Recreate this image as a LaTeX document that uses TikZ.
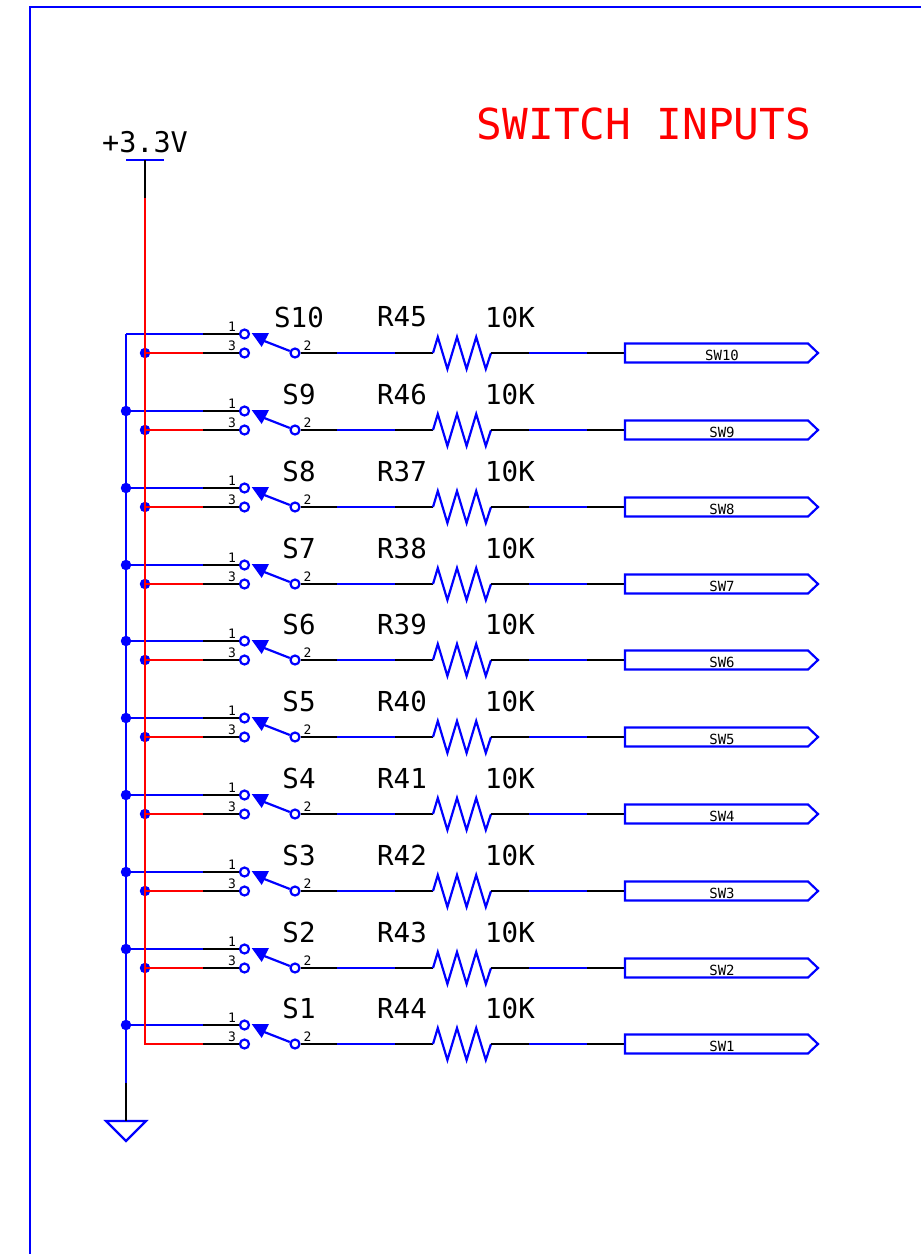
\documentclass[tikz,border=0pt]{standalone}
\usepackage{fontspec}
\setmainfont{DejaVu Sans Mono}
\definecolor{wireblue}{RGB}{0,0,255}
\definecolor{wirered}{RGB}{255,0,0}
\tikzset{
  bw/.style={draw=wireblue,line width=2.2pt},
  kw/.style={draw=black,line width=2.2pt},
  rw/.style={draw=wirered,line width=2.2pt},
  contact/.style={circle,draw=wireblue,line width=2.2pt,fill=white,inner sep=0pt,minimum size=9pt},
  junction/.style={circle,fill=wireblue,inner sep=0pt,minimum size=10.5pt},
  portbox/.style={draw=wireblue,line width=2.2pt,line join=miter},
  pinlbl/.style={font=\fontsize{13}{13}\selectfont,inner sep=0pt},
  reflbl/.style={font=\fontsize{27.5}{28}\selectfont,inner sep=0pt},
  portlbl/.style={font=\fontsize{14}{14}\selectfont,inner sep=0pt}
}
\begin{document}
\begin{tikzpicture}[x=1pt,y=-1pt]
\useasboundingbox (0,0) rectangle (921,1254);
\fill[white] (0,0) rectangle (921,1254);
% sheet frame
\draw[bw] (30,1254) -- (30,7) -- (921,7);
% title and rail labels
\node[font=\fontsize{42.7}{43}\selectfont,text=wirered,inner sep=0pt] (title) at (644,124) {SWITCH INPUTS};
\node[font=\fontsize{28.5}{29}\selectfont,inner sep=0pt] (vcclbl) at (145,142) {+3.3V};
% rails: coordinates
\coordinate (vccbar) at (145,160);
\coordinate (vccsplit) at (145,198);
\coordinate (gndsplit) at (126,1083);
\coordinate (gndtop) at (126,1121);
\draw[bw] (126,160) -- (164,160);
\draw[bw] (106,1121) -- (146,1121) -- (126,1141) -- cycle;
\draw[kw] (vccbar) -- (vccsplit);
\draw[kw] (gndsplit) -- (gndtop);
\draw[bw] (126,334) -- (gndsplit);
% rows
\foreach \yy/\sw/\res/\prt/\tp/\bt in {
  353/S10/R45/SW10/0/1, 430/S9/R46/SW9/1/1, 507/S8/R37/SW8/1/1, 584/S7/R38/SW7/1/1,
  660/S6/R39/SW6/1/1, 737/S5/R40/SW5/1/1, 814/S4/R41/SW4/1/1, 891/S3/R42/SW3/1/1,
  968/S2/R43/SW2/1/1, 1044/S1/R44/SW1/1/0} {
  \begin{scope}[shift={(0,\yy)}]
    \coordinate (rail-a) at (126,-19);
    \coordinate (rail-b) at (145,0);
    \coordinate (a) at (203,-19);
    \coordinate (b) at (203,0);
    \ifnum\tp=1 \node[junction] at (rail-a) {}; \fi
    \ifnum\bt=1 \node[junction] at (rail-b) {}; \fi
    \node[contact] (c1) at (244.5,-19) {};
    \node[contact] (c3) at (244.5,0) {};
    \node[contact] (c2) at (295,0) {};
    \draw[bw] (rail-a) -- (a);
    \draw[kw] (a) -- (c1);
    \draw[rw] (rail-b) -- (b);
    \draw[kw] (b) -- (c3);
    % switch blade
    \draw[bw] (c2) -- (263,-12.5);
    \fill[wireblue] (251.7,-20) -- (269,-20) -- (261.7,-6) -- cycle;
    % series resistor and net
    \coordinate (n1) at (337,0);
    \coordinate (n2) at (395,0);
    \coordinate (r1) at (433,0);
    \coordinate (r2) at (491,0);
    \coordinate (n3) at (529,0);
    \coordinate (n4) at (587,0);
    \coordinate (p) at (625,0);
    \draw[kw] (c2) -- (n1);
    \draw[bw] (n1) -- (n2);
    \draw[kw] (n2) -- (r1);
    \draw[bw,line join=miter] (r1) -- (437.8,-16) -- (447.4,16) -- (457,-16) -- (466.6,16) -- (476.2,-16) -- (485.8,16) -- (r2);
    \draw[kw] (r2) -- (n3);
    \draw[bw] (n3) -- (n4);
    \draw[kw] (n4) -- (p);
    \draw[portbox] (p) -- (625,-9.5) -- (808,-9.5) -- (818,0) -- (808,9.5) -- (625,9.5) -- cycle;
    % labels
    \node[pinlbl] at (232,-26) {1};
    \node[pinlbl] at (232,-7) {3};
    \node[pinlbl] at (307.5,-7) {2};
    \node[reflbl] at (299,-36) {\sw};
    \node[reflbl] at (402,-36) {\res};
    \node[reflbl] at (510,-36) {10K};
    \node[portlbl] at (722,2) {\prt};
  \end{scope}
}
% positive rail on top of the junctions
\draw[rw,line join=miter] (vccsplit) -- (145,1044) -- (203,1044);
\end{tikzpicture}
\end{document}
